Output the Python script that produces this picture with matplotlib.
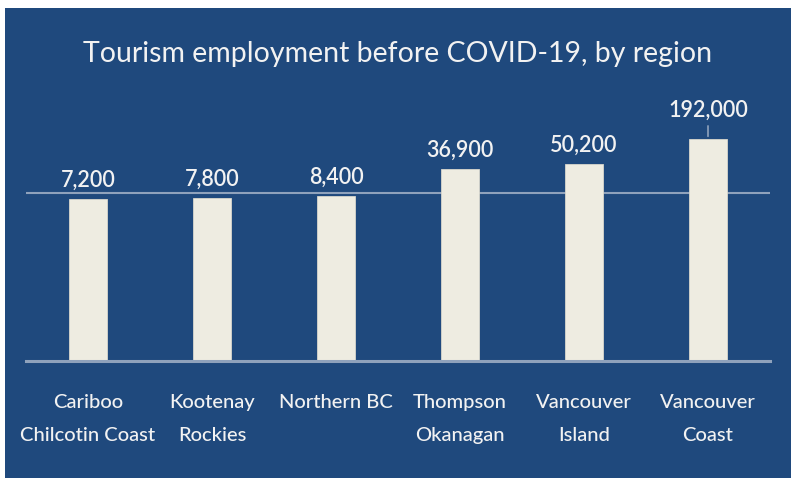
import matplotlib.pyplot as plt
from matplotlib.patches import Rectangle

plt.rcParams['font.family'] = ['Lato', 'DejaVu Sans']

# Data
regions = ['Cariboo\nChilcotin Coast', 'Kootenay\nRockies', 'Northern BC',
           'Thompson\nOkanagan', 'Vancouver\nIsland', 'Vancouver\nCoast']
jobs = [7200, 7800, 8400, 36900, 50200, 192000]

navy = '#1F497D'
tan = '#EEECE1'
light = '#F2F2F2'
rule = '#8FA2BC'

fig = plt.figure(figsize=(7.91, 4.81), dpi=100, facecolor='white')
fig.patches.append(Rectangle((5 / 791, 2 / 481), 786 / 791, 470 / 481,
                             transform=fig.transFigure, facecolor=navy,
                             edgecolor='none', zorder=-5))

ax = fig.add_axes([26 / 791, 119 / 481, 744 / 791, 252 / 481])
ax.set_facecolor('none')
ax.set_zorder(2)

x = range(len(regions))
ax.bar(x, jobs, width=0.31, bottom=1, color=tan, edgecolor='#D8D6CC',
       linewidth=0.6, zorder=3)

ax.set_yscale('log')
ax.set_ylim(1, 1e6)
ax.set_xlim(-0.5, len(regions) - 0.5)
ax.set_yticks([1e4])
ax.yaxis.set_minor_locator(plt.NullLocator())
ax.tick_params(axis='y', left=False, labelleft=False)
ax.yaxis.grid(True, color=rule, linewidth=1.5)
ax.set_axisbelow(True)

for s in ['top', 'right', 'left']:
    ax.spines[s].set_visible(False)
ax.spines['bottom'].set_color(rule)
ax.spines['bottom'].set_linewidth(2.2)
ax.spines['bottom'].set_zorder(4)

ax.tick_params(axis='x', length=0, pad=23)
ax.set_xticks(list(x))
ax.set_xticklabels(regions, color=light, fontsize=14.5, fontweight='medium')
for lbl in ax.get_xticklabels():
    lbl.set_linespacing(2.15)

# data labels; the tallest one sits higher with a leader line
for i, v in enumerate(jobs):
    off = 9.5
    if i == len(jobs) - 1:
        off = 16.5
        ax.annotate('', xy=(i, v), xytext=(0, 11.5), textcoords='offset points',
                    arrowprops=dict(arrowstyle='-', color=rule, lw=1.2))
    ax.annotate(f'{v:,}', xy=(i, v), xytext=(0, off), textcoords='offset points',
                ha='center', va='baseline', color=light, fontsize=15.5,
                fontweight='semibold')

fig.text(398 / 791, 1 - 62 / 481, 'Tourism employment before COVID-19, by region',
         ha='center', va='baseline', color=light, fontsize=20.5, zorder=3)

fig.savefig('out.png', dpi=100, facecolor=fig.get_facecolor())
